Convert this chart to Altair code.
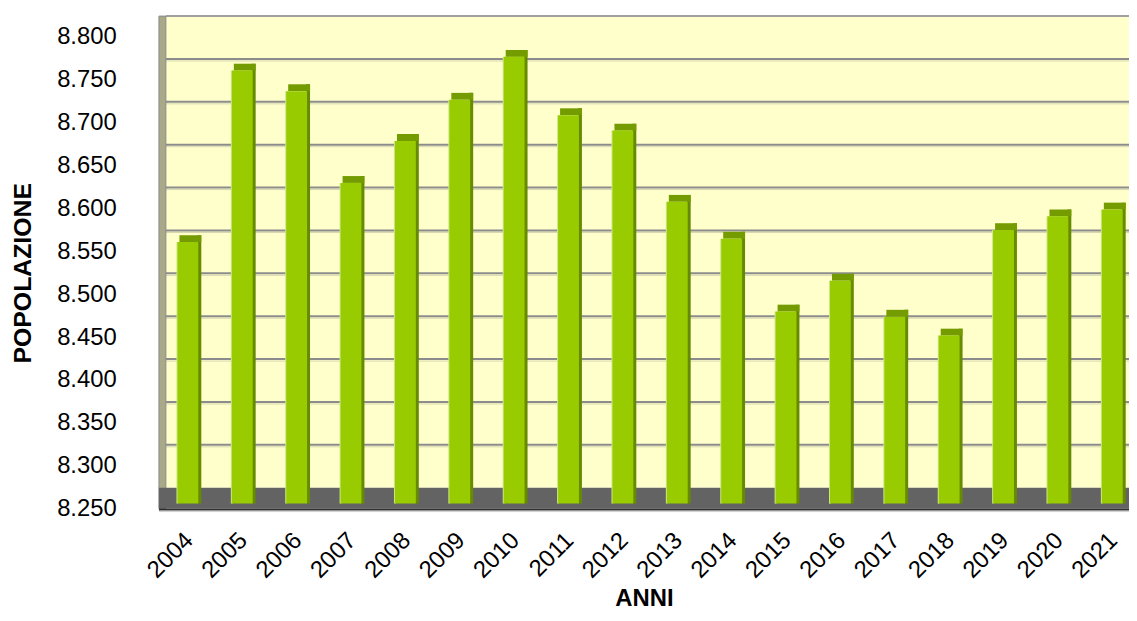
import altair as alt
import pandas as pd

# ---------------- data ----------------
years = [str(y) for y in range(2004, 2022)]
population = [8555, 8755, 8731, 8624, 8673, 8721, 8771, 8703, 8685,
              8602, 8559, 8474, 8510, 8468, 8446, 8569, 8585, 8593]
y_ticks = [8250, 8300, 8350, 8400, 8450, 8500, 8550,
           8600, 8650, 8700, 8750, 8800]
grid_values = y_ticks[1:-1]

Y_MIN, Y_MAX = y_ticks[0], y_ticks[-1]
CAP = 8  # depth of the 3D cap, in data units

bars = pd.DataFrame({"anno": years, "pop": population})
bars["base"] = Y_MIN
bars["cap"] = bars["pop"] + CAP
grid = pd.DataFrame({"g": grid_values})
one = pd.DataFrame({"k": [0]})

# ---------------- layout / style ----------------
W, H = 977, 475
DEPTH = -21       # back wall offset (px)
BAR_SHIFT = -5    # bar plane offset (px)
FONT = "Liberation Sans"

yscale = alt.Scale(domain=[Y_MIN, Y_MAX], zero=False, nice=False)
xscale = alt.Scale(domain=years, paddingInner=0.56, paddingOuter=0.2, align=0.85)

xaxis = alt.Axis(
    title="ANNI", titleFontSize=24, titleFontWeight="bold", titleFont=FONT,
    titleColor="#000000", titlePadding=4,
    labelAngle=-45, labelAlign="right", labelBaseline="middle",
    labelFontSize=24, labelFont=FONT, labelColor="#000000", labelPadding=28,
    ticks=False, domain=False, grid=False,
)
yaxis = alt.Axis(
    title="POPOLAZIONE", titleFontSize=25, titleFontWeight="bold", titleFont=FONT,
    titleColor="#000000", titlePadding=21,
    values=y_ticks, labelExpr="replace(format(datum.value, ','), ',', '.')",
    labelFontSize=24, labelFont=FONT, labelColor="#000000", labelPadding=43,
    labelFlush=False, labelOverlap=False,
    ticks=False, domain=False, grid=False,
)


def Yf(field):
    return alt.Y(field, scale=yscale, axis=yaxis, title="POPOLAZIONE")


def Yd(value):
    return alt.Y(datum=value, scale=yscale, axis=yaxis, title="POPOLAZIONE")


X = alt.X("anno:N", scale=xscale, axis=xaxis, sort=years, title="ANNI")

# back wall
back_wall = alt.Chart(one).mark_rect(
    color="#FFFFCC", yOffset=DEPTH, y2Offset=DEPTH
).encode(x=alt.value(7), x2=alt.value(W), y=Yd(Y_MAX), y2=alt.datum(Y_MIN))

# gridlines (dark line + light shadow)
grid_shadow = alt.Chart(grid).mark_rule(
    color="#D6D6B0", strokeWidth=1, yOffset=DEPTH + 2
).encode(x=alt.value(7), x2=alt.value(W), y=Yf("g:Q"))
grid_lines = alt.Chart(grid).mark_rule(
    color="#8C8C8C", strokeWidth=2, yOffset=DEPTH
).encode(x=alt.value(7), x2=alt.value(W), y=Yf("g:Q"))

top_border = alt.Chart(one).mark_rule(
    color="#A0A0A0", strokeWidth=2, yOffset=DEPTH
).encode(x=alt.value(7), x2=alt.value(W), y=Yd(Y_MAX))

# left wall
left_wall = alt.Chart(one).mark_rect(
    color="#A9A98A", stroke="#8A8A8A", strokeWidth=1, yOffset=DEPTH
).encode(x=alt.value(0), x2=alt.value(7), y=Yd(Y_MAX), y2=alt.datum(Y_MIN))

# floor
floor = alt.Chart(one).mark_rect(
    color="#636363", yOffset=DEPTH
).encode(x=alt.value(0), x2=alt.value(W), y=Yd(Y_MIN), y2=alt.datum(Y_MIN))
floor_edge = alt.Chart(one).mark_rule(
    color="#2E2E2E", strokeWidth=2, yOffset=1
).encode(x=alt.value(0), x2=alt.value(W), y=Yd(Y_MIN))
floor_light = alt.Chart(one).mark_rule(
    color="#CFCFCF", strokeWidth=1, yOffset=3
).encode(x=alt.value(0), x2=alt.value(W), y=Yd(Y_MIN))

# 3D bars
base = alt.Chart(bars)
side = base.mark_bar(
    color="#668A00", width=4, xOffset=10, yOffset=BAR_SHIFT, y2Offset=BAR_SHIFT
).encode(x=X, y=Yf("cap:Q"), y2="base:Q")
cap = base.mark_bar(
    color="#749C00", width=22, xOffset=1, yOffset=BAR_SHIFT, y2Offset=BAR_SHIFT
).encode(x=X, y=Yf("cap:Q"), y2="pop:Q")
glow = base.mark_bar(
    color="#CDE68A", width=2, xOffset=-12, yOffset=BAR_SHIFT, y2Offset=BAR_SHIFT
).encode(x=X, y=Yf("pop:Q"), y2="base:Q")
front = base.mark_bar(
    color="#99CC00", width=21, xOffset=-1.5, yOffset=BAR_SHIFT, y2Offset=BAR_SHIFT
).encode(x=X, y=Yf("pop:Q"), y2="base:Q")

chart = alt.layer(
    back_wall, grid_shadow, grid_lines, top_border, left_wall,
    floor, floor_edge, floor_light, side, cap, glow, front,
).properties(
    width=W, height=H,
    autosize=alt.AutoSizeParams(type="none"),
    padding={"left": 152, "top": 27, "right": 0, "bottom": 103},
    background="#FFFFFF",
).configure_view(stroke=None)

chart.save("out.html", embed_options={"renderer": "svg", "actions": False})
